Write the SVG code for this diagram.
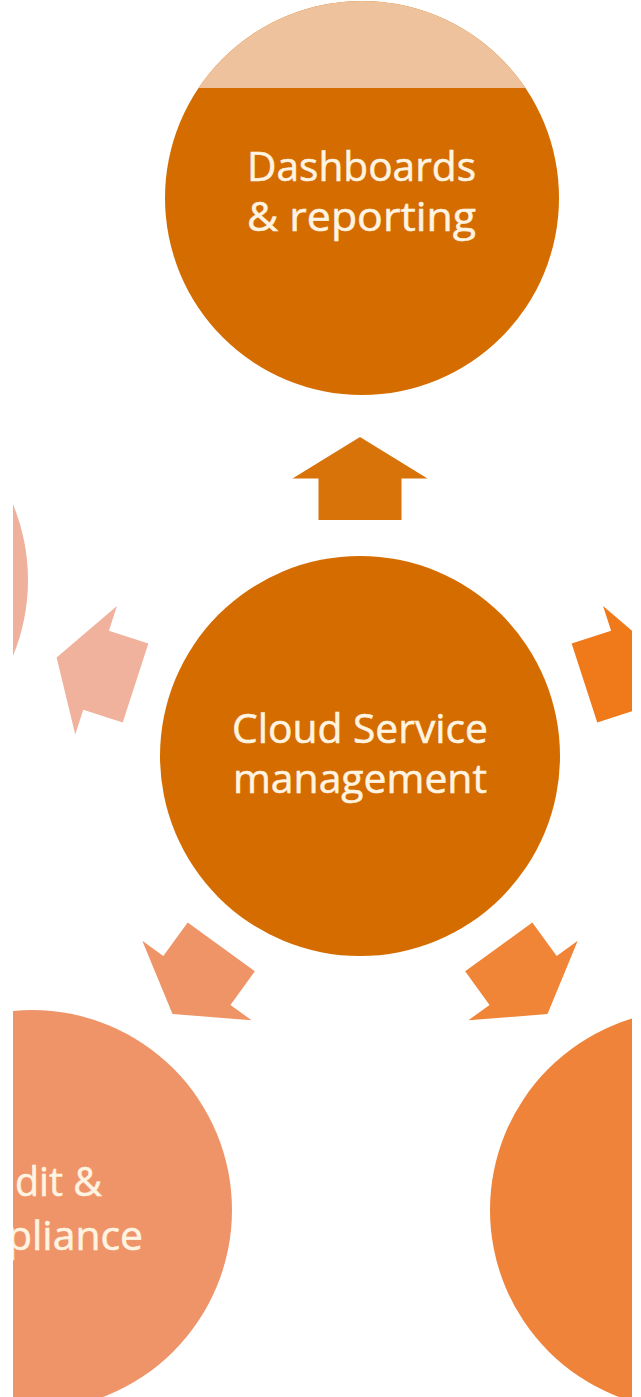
<svg xmlns="http://www.w3.org/2000/svg" width="641" height="1397" viewBox="0 0 641 1397">
<style>
.lbl{font-family:"Open Sans","Noto Sans","Liberation Sans",sans-serif;font-size:40px;fill:#FFF4E2;stroke:#FFF4E2;stroke-width:0.5;text-anchor:middle}
.lbll{font-family:"Open Sans","Noto Sans","Liberation Sans",sans-serif;font-size:40px;fill:#FFF4E2;stroke:#FFF4E2;stroke-width:0.5}
</style>
<defs>
<clipPath id="view"><rect x="13" y="0" width="619" height="1397"/></clipPath>
<clipPath id="band"><rect x="0" y="0" width="641" height="88"/></clipPath>
<path id="arrow" d="M0,-41.5 L67.5,0 L41.5,0 L41.5,41.5 L-41.5,41.5 L-41.5,0 L-67.5,0 Z"/>
</defs>
<rect width="641" height="1397" fill="#FFFFFF"/>
<g clip-path="url(#view)">
<g id="connectors">
<use href="#arrow" fill="#D8730A" transform="translate(360,756) rotate(0) translate(0,-277.5)"/>
<use href="#arrow" fill="#F0B29C" transform="translate(360,756) rotate(-72) translate(0,-277.5)"/>
<use href="#arrow" fill="#F07A1A" transform="translate(360,756) rotate(72) translate(0,-277.5)"/>
<use href="#arrow" fill="#EF9467" transform="translate(360,756) rotate(216) translate(0,-277.5)"/>
<use href="#arrow" fill="#F08437" transform="translate(360,756) rotate(144) translate(0,-277.5)"/>
</g>
<g id="node-dashboards">
<circle cx="362" cy="198" r="197" fill="#D46C00"/>
<circle cx="362" cy="198" r="197" fill="#EDC29C" clip-path="url(#band)"/>
<text class="lbl" x="361.5" y="181" textLength="229" lengthAdjust="spacingAndGlyphs">Dashboards</text>
<text class="lbl" x="361.5" y="231" textLength="229" lengthAdjust="spacingAndGlyphs">&amp; reporting</text>
</g>
<g id="node-cloud">
<circle cx="360" cy="756" r="200" fill="#D46C00"/>
<text class="lbl" x="360" y="743" textLength="256" lengthAdjust="spacingAndGlyphs">Cloud Service</text>
<text class="lbl" x="360" y="793" textLength="254" lengthAdjust="spacingAndGlyphs">management</text>
</g>
<g id="node-left-upper">
<circle cx="-172" cy="580" r="200" fill="#F0B19C"/>
</g>
<g id="node-audit">
<circle cx="32" cy="1210" r="200" fill="#EF9469"/>
<text class="lbll" x="15" y="1196" textLength="87" lengthAdjust="spacingAndGlyphs">dit &amp;</text>
<text class="lbll" x="7" y="1250" textLength="136" lengthAdjust="spacingAndGlyphs">pliance</text>
</g>
<g id="node-lower-right">
<circle cx="690" cy="1210" r="200" fill="#EE8339"/>
</g>
</g>
</svg>
